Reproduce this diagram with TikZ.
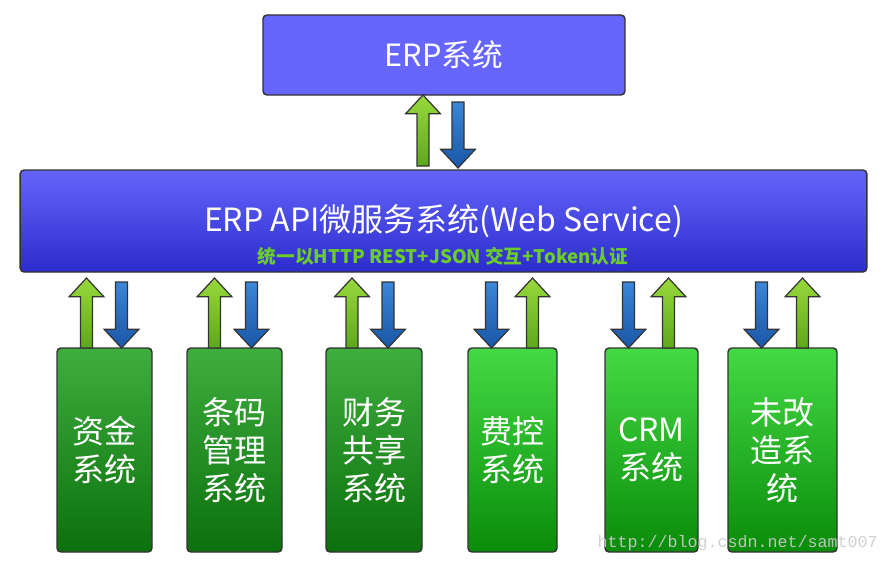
\documentclass[tikz,border=0pt]{standalone}
\usepackage{fontspec}
\setmainfont{Noto Sans CJK SC}
\newfontfamily\wmfont{Liberation Mono}
\usetikzlibrary{calc}

\definecolor{erpfill}{HTML}{6666FF}
\definecolor{apitop}{HTML}{6464FC}
\definecolor{apibot}{HTML}{2C2CCC}
\definecolor{dgtop}{HTML}{3EAE3E}
\definecolor{dgbot}{HTML}{0C700C}
\definecolor{lgtop}{HTML}{44DA44}
\definecolor{lgbot}{HTML}{0A8C0A}
\definecolor{uptop}{HTML}{98D83C}
\definecolor{upbot}{HTML}{5EA81C}
\definecolor{dntop}{HTML}{3A86D8}
\definecolor{dnbot}{HTML}{1A56A6}
\definecolor{notegreen}{HTML}{6CCC2C}
\definecolor{edge}{HTML}{333333}

\tikzset{
  sysbox/.style={draw=edge, line width=1.1pt, rounded corners=3pt, inner sep=0pt,
    outer sep=0pt, text=white, align=center},
  subsys/.style={sysbox, minimum height=153pt, font=\fontsize{24}{28.5}\selectfont},
  oldsys/.style={subsys, top color=dgtop, bottom color=dgbot},
  newsys/.style={subsys, top color=lgtop, bottom color=lgbot},
  uparrow/.style={draw=edge, line width=0.9pt, top color=uptop, bottom color=upbot},
  downarrow/.style={draw=edge, line width=0.9pt, top color=dntop, bottom color=dnbot}
}

% block arrow from #2 to the tip #3
\newcommand{\flowarrow}[3]{%
  \draw[#1] let \p1=(#2), \p2=(#3), \p3=($(#3)!14pt!(#2)$) in
    (\x1-4.5pt,\y1) -- (\x1-4.5pt,\y3) -- (\x1-13pt,\y3) -- (\p2)
    -- (\x1+13pt,\y3) -- (\x1+4.5pt,\y3) -- (\x1+4.5pt,\y1) -- cycle;}

\begin{document}
\begin{tikzpicture}[x=0.75pt, y=-0.75pt]
	\useasboundingbox (0,0) rectangle (884,567);
	\node[sysbox, fill=erpfill, minimum width=271.5pt, minimum height=60pt,
	  font=\fontsize{23}{27}\selectfont] (erp) at (444,55) {ERP系统};
	\node[sysbox, top color=apitop, bottom color=apibot, minimum width=635pt,
	  minimum height=76.5pt, font=\fontsize{24}{28}\selectfont] (api) at (443.5,221)
	  {ERP API微服务系统(Web Service)};
	\node[text=notegreen, font=\bfseries\fontsize{14}{16}\selectfont] (apinote) at (443,256)
	  {统一以HTTP REST+JSON 交互+Token认证};

	\node[oldsys, minimum width=71.25pt] (zj) at (104.5,450) {资金\\系统};
	\node[oldsys, minimum width=71.25pt] (tm) at (234.5,450) {条码\\管理\\系统};
	\node[oldsys, minimum width=72pt] (cw) at (374,450) {财务\\共享\\系统};
	\node[newsys, minimum width=66.75pt] (fk) at (512.5,450) {费控\\系统};
	\node[newsys, minimum width=69.75pt] (crm) at (651.5,450) {CRM\\系统};
	\node[newsys, minimum width=81.75pt] (wg) at (782.5,450) {未改\\造系\\统};

	% arrows between erp and api
	\coordinate (top-g) at ($(erp.south)+(-21,0)$);
	\coordinate (top-gs) at ($(top-g |- api.north)+(0,-4)$);
	\coordinate (top-bs) at ($(erp.south)+(14,7)$);
	\coordinate (top-b) at ($(top-bs |- api.north)+(0,-2)$);
	\flowarrow{uparrow}{top-gs}{top-g}
	\flowarrow{downarrow}{top-bs}{top-b}

	% arrows between api and the sub systems
	\foreach \b/\gx/\bx in {zj/-18/17, tm/-20/17, cw/-22/14, fk/20/-21, crm/17/-23, wg/20/-21} {
		\coordinate (\b-g) at ($(\b.north)+(\gx,0)$);
		\coordinate (\b-b) at ($(\b.north)+(\bx,0)$);
		\coordinate (\b-gt) at ($(\b-g |- api.south)+(0,6)$);
		\coordinate (\b-bs) at ($(\b-b |- api.south)+(0,10)$);
		\flowarrow{uparrow}{\b-g}{\b-gt}
		\flowarrow{downarrow}{\b-bs}{\b-b}
	}

	\node[text=gray!40, opacity=0.9, anchor=base west, font=\wmfont\fontsize{12.5}{14}\selectfont]
	  (wm) at (593,547) {http://blog.csdn.net/samt007};
\end{tikzpicture}
\end{document}
